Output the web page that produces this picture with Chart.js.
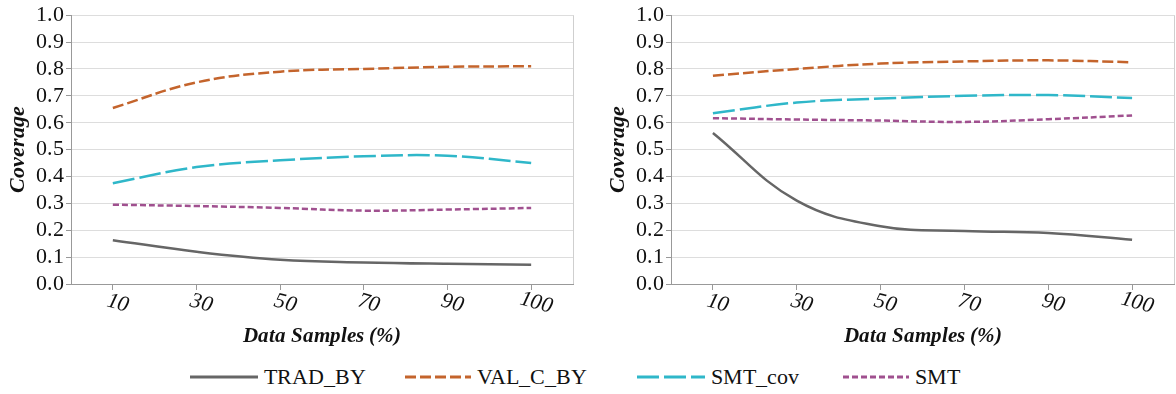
<!DOCTYPE html>
<html>
<head>
<meta charset="utf-8">
<script src="https://cdn.jsdelivr.net/npm/chart.js@4.4.1/dist/chart.umd.min.js"></script>
<style>
  @font-face { font-family: 'PaperSerif'; src: local('Liberation Serif'), local('LiberationSerif'); font-style: normal; font-weight: 400; }
  @font-face { font-family: 'PaperSerif'; src: local('Liberation Serif Italic'), local('LiberationSerif-Italic'); font-style: italic; font-weight: 400; }
  @font-face { font-family: 'PaperSerif'; src: local('Liberation Serif Bold Italic'), local('LiberationSerif-BoldItalic'); font-style: italic; font-weight: 700; }
  body { margin: 0; background: #fff; font-family: 'PaperSerif', 'Liberation Serif', serif; }
  #left { position: absolute; left: 0; top: 0; width: 600px; height: 352px; }
  #right { position: absolute; left: 600px; top: 0; width: 576px; height: 352px; }
  .leg { position: absolute; top: 362px; height: 30px; display: flex; align-items: center; font-size: 22px; color: #111; }
  .leg svg { margin-right: 6px; }
</style>
</head>
<body>
<div id="left"><canvas id="c1" width="600" height="352"></canvas></div>
<div id="right"><canvas id="c2" width="576" height="352"></canvas></div>
<div id="legend"></div>
<script>
// categorias e series
const samples = ['10', '30', '50', '70', '90', '100'];
const yTicks = [0.0, 0.1, 0.2, 0.3, 0.4, 0.5, 0.6, 0.7, 0.8, 0.9, 1.0];

const tradLeft   = [0.163, 0.120, 0.090, 0.080, 0.075, 0.072];
const valLeft    = [0.655, 0.750, 0.790, 0.800, 0.808, 0.810];
const smtCovLeft = [0.375, 0.435, 0.460, 0.475, 0.477, 0.450];
const smtLeft    = [0.295, 0.290, 0.283, 0.273, 0.277, 0.283];

const tradRight   = [0.562, 0.310, 0.215, 0.197, 0.190, 0.165];
const valRight    = [0.775, 0.800, 0.820, 0.828, 0.832, 0.825];
const smtCovRight = [0.635, 0.675, 0.690, 0.700, 0.703, 0.692];
const smtRight    = [0.617, 0.612, 0.608, 0.603, 0.613, 0.627];

const series = [
  { label: 'TRAD_BY',  color: '#666666', dash: [],       width: 2.5, legendW: 68 },
  { label: 'VAL_C_BY', color: '#c4642c', dash: [11, 4],  width: 2.5, legendW: 66 },
  { label: 'SMT_cov',  color: '#2fb7c9', dash: [22, 5],  width: 2.5, legendW: 68 },
  { label: 'SMT',      color: '#a0508f', dash: [6, 3],   width: 2.5, legendW: 66 }
];
const legendLeft = [190, 405, 637, 843];
const serif = "PaperSerif, 'Liberation Serif', serif";

Chart.defaults.font.family = serif;

// rotulos do eixo x em italico, inclinados
const xLabelPlugin = {
  id: 'xLabels',
  afterDraw(chart) {
    const ctx = chart.ctx;
    const xs = chart.scales.x;
    const area = chart.chartArea;
    ctx.save();
    ctx.strokeStyle = '#cfcfcf';
    ctx.lineWidth = 1;
    ctx.beginPath();
    ctx.moveTo(area.right + 0.5, area.top);
    ctx.lineTo(area.right + 0.5, area.bottom);
    ctx.stroke();
    ctx.fillStyle = '#111';
    ctx.font = 'italic 22px ' + serif;
    ctx.textAlign = 'center';
    ctx.textBaseline = 'middle';
    samples.forEach(function(lbl, i) {
      const x = xs.getPixelForTick(i) + 5;
      const y = area.bottom + 19;
      ctx.save();
      ctx.translate(x, y);
      ctx.rotate(15 * Math.PI / 180);
      ctx.fillText(lbl, 0, 0);
      ctx.restore();
    });
    ctx.restore();
  }
};

function makeChart(id, values, rightPad) {
  const datasets = series.map(function(s, i) {
    return {
      label: s.label,
      data: values[i],
      borderColor: s.color,
      borderDash: s.dash,
      borderWidth: s.width,
      pointRadius: 0,
      tension: 0.4,
      fill: false
    };
  });
  return new Chart(document.getElementById(id), {
    type: 'line',
    data: { labels: samples, datasets: datasets },
    options: {
      responsive: false,
      animation: false,
      layout: { padding: { top: 10, right: rightPad, left: 0, bottom: 0 } },
      plugins: { legend: { display: false }, tooltip: { enabled: false } },
      scales: {
        x: {
          offset: true,
          grid: { drawOnChartArea: false, drawTicks: true, tickLength: 6, color: '#999', offset: false },
          border: { color: '#999', width: 1 },
          ticks: { display: false },
          title: { display: true, text: 'Data Samples (%)', color: '#111',
                   font: { family: serif, size: 21, style: 'italic', weight: 'bold' },
                   padding: { top: 0, bottom: 3 } },
          afterFit: function(scale) { scale.height = 68; }
        },
        y: {
          min: 0, max: 1,
          afterBuildTicks: function(scale) { scale.ticks = yTicks.map(function(v) { return { value: v }; }); },
          grid: { color: '#dddddd', tickLength: 5, tickColor: '#999' },
          border: { color: '#999', width: 1 },
          ticks: { color: '#111', padding: 2, autoSkip: false, font: { family: serif, size: 22 },
                   callback: function(v) { return v.toFixed(1); } },
          title: { display: true, text: 'Coverage', color: '#111',
                   font: { family: serif, size: 22, style: 'italic', weight: 'bold' },
                   padding: { top: 5, bottom: 0 } },
          afterFit: function(scale) { scale.width = 71; }
        }
      }
    },
    plugins: [xLabelPlugin]
  });
}

function draw() {
  makeChart('c1', [tradLeft, valLeft, smtCovLeft, smtLeft], 27);
  makeChart('c2', [tradRight, valRight, smtCovRight, smtRight], 2);

  // legenda comum em baixo
  const legend = document.getElementById('legend');
  series.forEach(function(s, i) {
    const item = document.createElement('div');
    item.className = 'leg';
    item.style.left = legendLeft[i] + 'px';
    const dash = s.dash.length ? ' stroke-dasharray="' + s.dash.join(',') + '"' : '';
    item.innerHTML = '<svg width="' + s.legendW + '" height="6"><line x1="0" y1="3" x2="' + s.legendW +
      '" y2="3" stroke="' + s.color + '" stroke-width="3"' + dash + '/></svg><span>' + s.label + '</span>';
    legend.appendChild(item);
  });
}

Promise.all([
  document.fonts.load('22px PaperSerif'),
  document.fonts.load('italic 22px PaperSerif'),
  document.fonts.load('italic bold 22px PaperSerif')
]).then(draw, draw);
</script>
</body>
</html>
